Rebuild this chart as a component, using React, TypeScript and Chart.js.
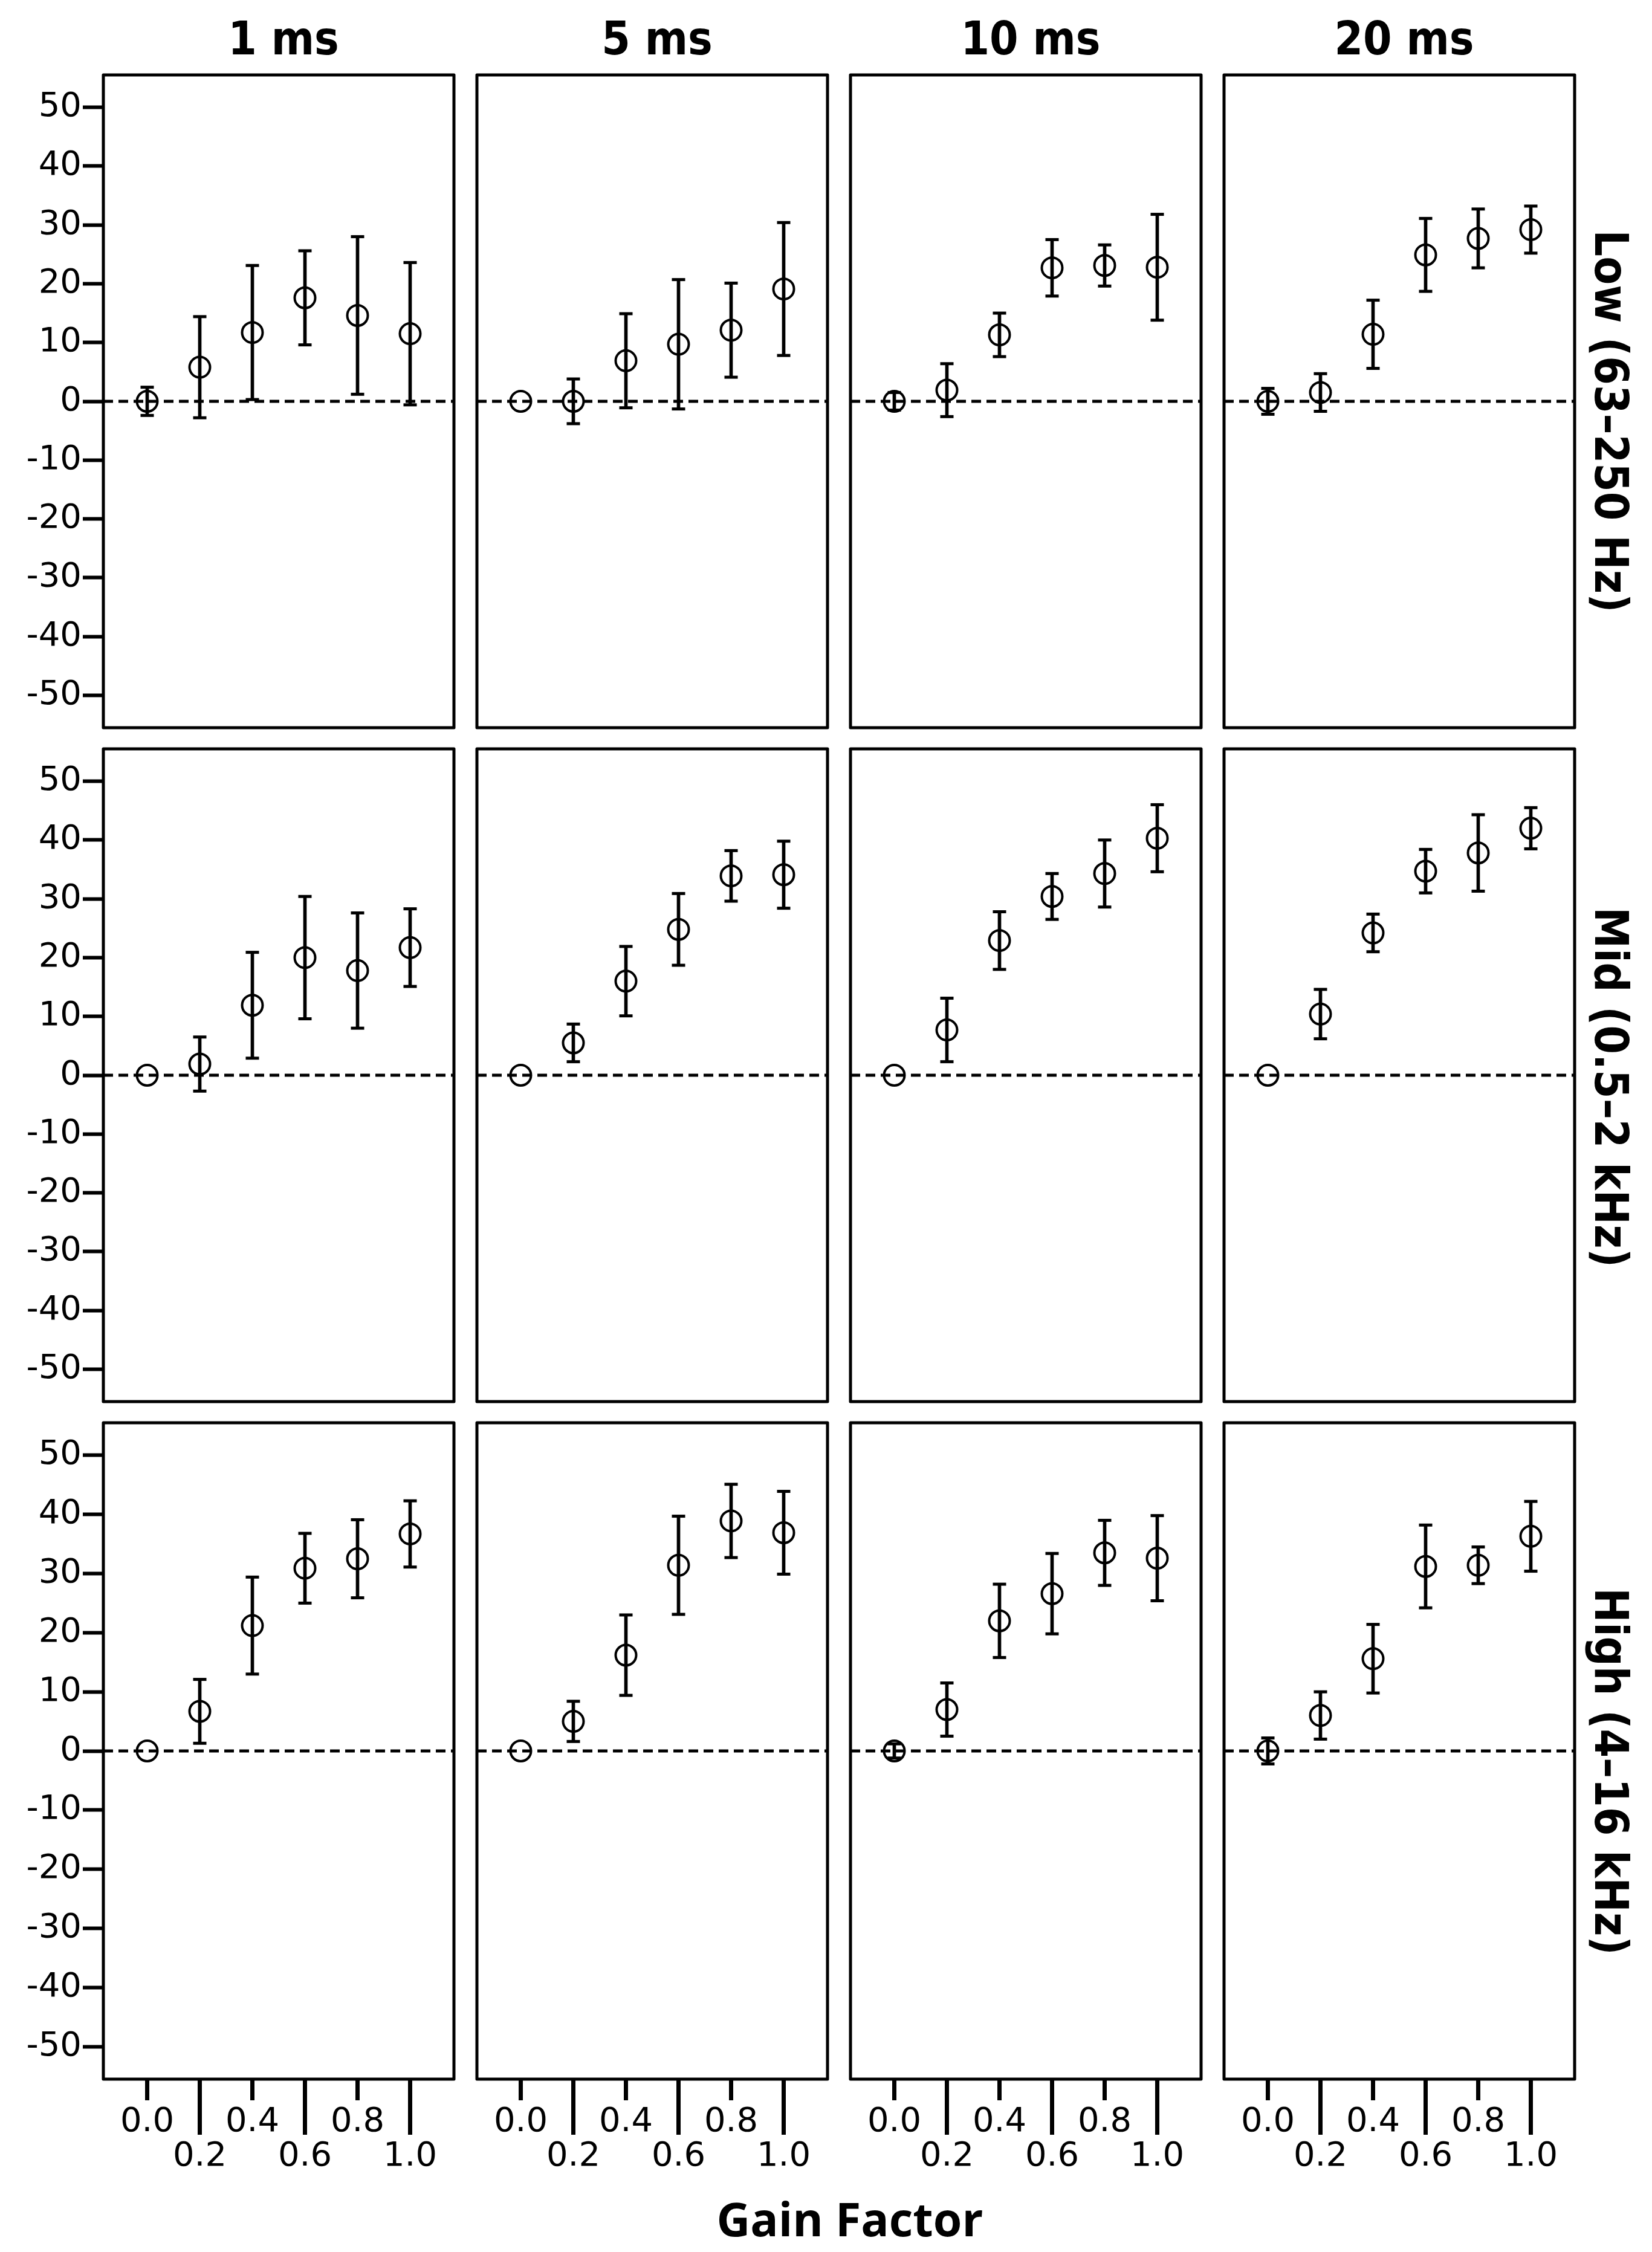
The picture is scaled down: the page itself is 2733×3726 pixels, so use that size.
import React, { useEffect, useRef } from 'react';
import { Chart, registerables } from 'chart.js';

Chart.register(...registerables);

// ---------------- data ----------------
const gainFactors = [0.0, 0.2, 0.4, 0.6, 0.8, 1.0];
const durationLabels = ['1 ms', '5 ms', '10 ms', '20 ms'];
const bandLabels = ['Low (63–250 Hz)', 'Mid (0.5–2 kHz)', 'High (4–16 kHz)'];
const xAxisTitle = 'Gain Factor';
const yTickValues = [-50, -40, -30, -20, -10, 0, 10, 20, 30, 40, 50];
const xTickValues = [0.0, 0.2, 0.4, 0.6, 0.8, 1.0];
const xTickValuesLower = [0.2, 0.6, 1.0]; // staggered onto the second label row
const referenceValue = 0;

// Low band (63–250 Hz): means and error half-widths (null = no bar)
const low1msMean = [0, 5.8, 11.7, 17.6, 14.6, 11.5];
const low1msErr = [2.4, 8.6, 11.4, 8.0, 13.4, 12.1];
const low5msMean = [0, 0, 6.9, 9.7, 12.1, 19.1];
const low5msErr = [null, 3.8, 8.0, 11.0, 8.0, 11.3];
const low10msMean = [0, 1.9, 11.3, 22.7, 23.1, 22.8];
const low10msErr = [1.5, 4.5, 3.7, 4.8, 3.5, 9.0];
const low20msMean = [0, 1.5, 11.4, 24.9, 27.7, 29.2];
const low20msErr = [2.2, 3.2, 5.8, 6.2, 5.0, 4.0];

// Mid band (0.5–2 kHz)
const mid1msMean = [0, 1.9, 11.9, 20.0, 17.8, 21.7];
const mid1msErr = [null, 4.6, 9.0, 10.4, 9.8, 6.6];
const mid5msMean = [0, 5.5, 16.0, 24.8, 33.9, 34.1];
const mid5msErr = [null, 3.2, 5.9, 6.1, 4.3, 5.7];
const mid10msMean = [0, 7.7, 22.9, 30.4, 34.3, 40.3];
const mid10msErr = [null, 5.4, 4.9, 3.9, 5.7, 5.7];
const mid20msMean = [0, 10.4, 24.2, 34.7, 37.8, 42.0];
const mid20msErr = [null, 4.2, 3.2, 3.7, 6.5, 3.5];

// High band (4–16 kHz)
const high1msMean = [0, 6.7, 21.2, 30.9, 32.5, 36.7];
const high1msErr = [null, 5.4, 8.2, 5.9, 6.6, 5.6];
const high5msMean = [0, 5.0, 16.2, 31.4, 38.9, 36.9];
const high5msErr = [null, 3.4, 6.8, 8.3, 6.2, 7.0];
const high10msMean = [0, 7.0, 22.0, 26.6, 33.5, 32.6];
const high10msErr = [1.2, 4.5, 6.2, 6.8, 5.5, 7.2];
const high20msMean = [0, 6.0, 15.6, 31.2, 31.4, 36.3];
const high20msErr = [2.2, 4.0, 5.8, 7.0, 3.1, 5.9];

const panelMeans = [
  [low1msMean, low5msMean, low10msMean, low20msMean],
  [mid1msMean, mid5msMean, mid10msMean, mid20msMean],
  [high1msMean, high5msMean, high10msMean, high20msMean],
];
const panelErrs = [
  [low1msErr, low5msErr, low10msErr, low20msErr],
  [mid1msErr, mid5msErr, mid10msErr, mid20msErr],
  [high1msErr, high5msErr, high10msErr, high20msErr],
];

// ---------------- layout ----------------
const COL_LEFT = [171, 789, 1407, 2025];
const ROW_TOP = [124, 1239, 2354];
const PANEL_W = 580;
const PANEL_H = 1086;
const PAD = 6;
const BOTTOM_AXIS_H = 170;
const X_MIN = -1 / 6;
const X_MAX = 1 + 1 / 6;
const Y_MIN = -55.5;
const Y_MAX = 55.5;

const TITLE_FONT = "'DejaVu Sans Condensed', 'DejaVu Sans', sans-serif";
const TICK_FONT = { family: "'DejaVu Sans', sans-serif", size: 56 };

const panelBorder = {
  id: 'panelBorder',
  afterDatasetsDraw(chart: any) {
    const { ctx, chartArea: a } = chart;
    ctx.save();
    ctx.strokeStyle = '#000';
    ctx.lineWidth = 5;
    ctx.lineJoin = 'round';
    ctx.strokeRect(a.left, a.top, a.right - a.left, a.bottom - a.top);
    ctx.restore();
  },
};

const isLowerTick = (v: number) => xTickValuesLower.some((t) => Math.abs(t - v) < 1e-9);

function Panel({ row, col }: { row: number; col: number }) {
  const ref = useRef<HTMLCanvasElement | null>(null);
  const padL = col === 0 ? COL_LEFT[0] : PAD;
  const padB = row === 2 ? BOTTOM_AXIS_H : PAD;
  const left = COL_LEFT[col] - padL;
  const top = ROW_TOP[row] - PAD;
  const width = padL + PANEL_W + PAD;
  const height = PAD + PANEL_H + padB;

  useEffect(() => {
    if (!ref.current) return;
    const means = panelMeans[row][col];
    const errs = panelErrs[row][col];
    const points = gainFactors.map((x, i) => ({ x, y: means[i] }));
    const bars: any[] = [];
    const caps: any[] = [];
    gainFactors.forEach((x, i) => {
      const e = errs[i];
      if (e === null || e === undefined) return;
      bars.push({ x, y: [means[i] - e, means[i] + e] });
      caps.push({ x, y: means[i] - e });
      caps.push({ x, y: means[i] + e });
    });
    const showX = row === 2;
    const showY = col === 0;

    const zeroPad = (s: any) => {
      s.paddingLeft = 0;
      s.paddingRight = 0;
      s.paddingTop = 0;
      s.paddingBottom = 0;
    };

    const chart = new Chart(ref.current, {
      type: 'scatter',
      data: {
        datasets: [
          {
            type: 'scatter',
            data: points,
            xAxisID: 'x',
            yAxisID: 'y',
            pointStyle: 'circle',
            pointRadius: 17,
            pointBorderWidth: 4,
            pointBorderColor: '#000',
            pointBackgroundColor: 'rgba(0,0,0,0)',
            showLine: false,
            order: 0,
          } as any,
          {
            type: 'scatter',
            data: caps,
            xAxisID: 'x',
            yAxisID: 'y',
            pointStyle: 'line',
            pointRadius: 11,
            pointBorderWidth: 5,
            pointBorderColor: '#000',
            pointBackgroundColor: '#000',
            showLine: false,
            order: 1,
          } as any,
          {
            type: 'bar',
            data: bars,
            xAxisID: 'x',
            yAxisID: 'y',
            barThickness: 5,
            grouped: false,
            backgroundColor: '#000',
            borderWidth: 0,
            order: 2,
          } as any,
          {
            type: 'line',
            data: [
              { x: X_MIN, y: referenceValue },
              { x: X_MAX, y: referenceValue },
            ],
            xAxisID: 'x',
            yAxisID: 'y',
            borderColor: '#000',
            borderWidth: 5,
            borderDash: [16, 9],
            pointRadius: 0,
            fill: false,
            tension: 0,
            order: 3,
          } as any,
        ],
      },
      options: {
        animation: false,
        responsive: false,
        devicePixelRatio: 1,
        events: [],
        layout: {
          autoPadding: false,
          padding: { top: PAD, right: PAD, left: 0, bottom: showX ? 0 : PAD },
        },
        plugins: {
          legend: { display: false },
          tooltip: { enabled: false },
          title: { display: false },
        },
        scales: {
          // long tick marks for the staggered labels (sits nearest the plot, zero height)
          x2: {
            type: 'linear',
            min: X_MIN,
            max: X_MAX,
            offset: false,
            display: showX,
            position: 'bottom',
            weight: 0,
            border: { display: false },
            afterBuildTicks: (s: any) => {
              s.ticks = xTickValuesLower.map((v) => ({ value: v }));
            },
            afterFit: (s: any) => {
              s.height = 0;
              zeroPad(s);
            },
            grid: {
              display: true,
              offset: false,
              drawOnChartArea: false,
              drawTicks: true,
              tickLength: 92,
              tickWidth: 7,
              tickColor: '#000',
            },
            ticks: { display: false },
          },
          x: {
            type: 'linear',
            min: X_MIN,
            max: X_MAX,
            offset: false,
            display: showX,
            position: 'bottom',
            weight: 1,
            border: { display: false },
            afterBuildTicks: (s: any) => {
              s.ticks = xTickValues.map((v) => ({ value: v }));
            },
            afterFit: (s: any) => {
              s.height = padB;
              zeroPad(s);
            },
            grid: {
              display: true,
              offset: false,
              drawOnChartArea: false,
              drawTicks: true,
              tickLength: 35,
              tickWidth: 7,
              tickColor: '#000',
            },
            ticks: {
              font: { ...TICK_FONT, lineHeight: 1.02 },
              color: '#000',
              padding: 8,
              maxRotation: 0,
              minRotation: 0,
              autoSkip: false,
              callback: (v: any) => {
                const label = Number(v).toFixed(1);
                return isLowerTick(Number(v)) ? ['', label] : label;
              },
            },
          },
          y: {
            type: 'linear',
            min: Y_MIN,
            max: Y_MAX,
            position: 'left',
            border: { display: false },
            afterBuildTicks: (s: any) => {
              s.ticks = yTickValues.map((v) => ({ value: v }));
            },
            afterFit: (s: any) => {
              s.width = padL;
              zeroPad(s);
            },
            grid: {
              display: showY,
              drawOnChartArea: false,
              drawTicks: showY,
              tickLength: 34,
              tickWidth: 6,
              tickColor: '#000',
            },
            ticks: {
              display: showY,
              font: TICK_FONT,
              color: '#000',
              padding: 2,
              callback: (v: any) => String(v),
            },
          },
        } as any,
      },
      plugins: [panelBorder as any],
    } as any);
    return () => chart.destroy();
  }, [row, col, padL, padB]);

  return (
    <canvas
      ref={ref}
      width={width}
      height={height}
      style={{ position: 'absolute', left, top, width, height }}
    />
  );
}

export default function App() {
  useEffect(() => {
    document.body.style.margin = '0';
  }, []);

  const rowLabelCenters = [697, 1799, 2931];

  return (
    <div
      style={{
        position: 'relative',
        width: 2733,
        height: 3726,
        background: '#fff',
        overflow: 'hidden',
      }}
    >
      {durationLabels.map((t, c) => (
        <div
          key={t}
          style={{
            position: 'absolute',
            left: COL_LEFT[c] + 8,
            top: 26,
            width: PANEL_W,
            textAlign: 'center',
            fontFamily: TITLE_FONT,
            fontStretch: 'condensed',
            fontWeight: 'bold',
            fontSize: 76,
            lineHeight: '76px',
            whiteSpace: 'nowrap',
            color: '#000',
          }}
        >
          {t}
        </div>
      ))}
      {bandLabels.map((t, r) => (
        <div
          key={t}
          style={{
            position: 'absolute',
            left: 2665,
            top: rowLabelCenters[r],
            transform: 'translate(-50%, -50%) rotate(90deg)',
            fontFamily: TITLE_FONT,
            fontStretch: 'condensed',
            fontWeight: 'bold',
            fontSize: 76,
            lineHeight: '76px',
            whiteSpace: 'nowrap',
            color: '#000',
          }}
        >
          {t}
        </div>
      ))}
      {[0, 1, 2].map((r) =>
        [0, 1, 2, 3].map((c) => <Panel key={`${r}-${c}`} row={r} col={c} />)
      )}
      <div
        style={{
          position: 'absolute',
          left: 1406,
          top: 3632,
          transform: 'translateX(-50%)',
          fontFamily: "'Open Sans', sans-serif",
          fontWeight: 'bold',
          fontSize: 77,
          lineHeight: '77px',
          whiteSpace: 'nowrap',
          color: '#000',
        }}
      >
        {xAxisTitle}
      </div>
    </div>
  );
}
